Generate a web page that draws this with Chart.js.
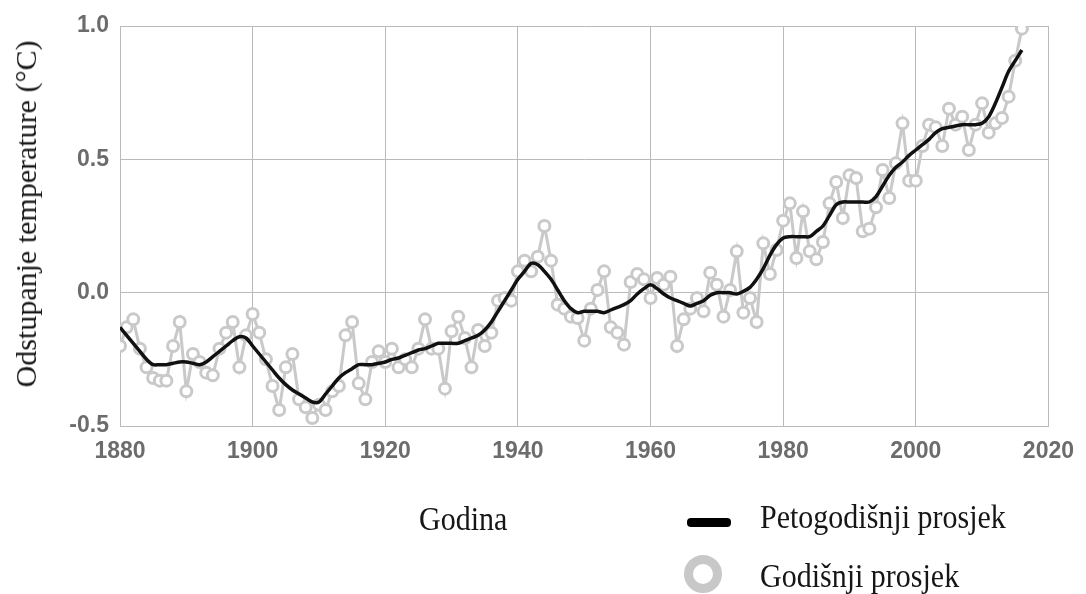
<!DOCTYPE html>
<html>
<head>
<meta charset="utf-8">
<script src="https://cdn.jsdelivr.net/npm/chart.js@4.4.1/dist/chart.umd.min.js"></script>
<style>
  html, body { margin: 0; padding: 0; background: #fff; }
  #wrap { position: relative; width: 1086px; height: 594px; overflow: hidden; }
  #c { position: absolute; left: 0; top: 0; }
  .t { position: absolute; font-family: 'Liberation Serif', 'Times New Roman', serif; color: #161616; white-space: nowrap; line-height: 1; }
  .ytitle { font-size: 30px; left: 26px; top: 214px; transform: translate(-50%, -50%) rotate(-90deg); }
  .lg { font-size: 30px; transform: scale(1, 1.15); transform-origin: left top; }
  .swline { position: absolute; left: 687px; top: 518px; width: 44px; height: 9px; background: #000; border-radius: 4px; }
  .swring { position: absolute; left: 684px; top: 555px; width: 20px; height: 20px; border: 9px solid #c8c8c8; border-radius: 50%; box-sizing: content-box; background: #fff; }
</style>
</head>
<body>
<div id="wrap">
  <canvas id="c" width="1086" height="594"></canvas>
  <div class="t ytitle">Odstupanje temperature (°C)</div>
  <div class="t lg" style="left:419px; top:501px;">Godina</div>
  <div class="swline"></div>
  <div class="t lg" style="left:760px; top:499px;">Petogodišnji prosjek</div>
  <div class="swring"></div>
  <div class="t lg" style="left:760px; top:558px;">Godišnji prosjek</div>
</div>
<script>
// Categories: years 1880..2016
const years = Array.from({ length: 137 }, (_, i) => 1880 + i);

// Annual mean anomaly (°C)
const annualMean = [
  -0.20, -0.13, -0.10, -0.21, -0.28, -0.32, -0.33, -0.33, -0.20, -0.11,  // 1880s
  -0.37, -0.23, -0.26, -0.30, -0.31, -0.21, -0.15, -0.11, -0.28, -0.16,  // 1890s
  -0.08, -0.15, -0.25, -0.35, -0.44, -0.28, -0.23, -0.40, -0.43, -0.47,  // 1900s
  -0.42, -0.44, -0.37, -0.35, -0.16, -0.11, -0.34, -0.40, -0.26, -0.22,  // 1910s
  -0.26, -0.21, -0.28, -0.25, -0.28, -0.21, -0.10, -0.21, -0.21, -0.36,  // 1920s
  -0.145, -0.09, -0.17, -0.28, -0.14, -0.20, -0.15, -0.03, -0.02, -0.03, // 1930s
  0.08, 0.12, 0.08, 0.135, 0.25, 0.12, -0.045, -0.06, -0.09, -0.095,     // 1940s
  -0.18, -0.06, 0.01, 0.08, -0.13, -0.15, -0.195, 0.04, 0.07, 0.05,      // 1950s
  -0.02, 0.055, 0.03, 0.06, -0.20, -0.10, -0.06, -0.02, -0.07, 0.075,    // 1960s
  0.03, -0.09, 0.01, 0.155, -0.075, -0.02, -0.11, 0.185, 0.07, 0.16,     // 1970s
  0.27, 0.335, 0.13, 0.305, 0.155, 0.125, 0.19, 0.335, 0.415, 0.28,      // 1980s
  0.44, 0.43, 0.23, 0.24, 0.32, 0.46, 0.355, 0.485, 0.635, 0.42,         // 1990s
  0.42, 0.55, 0.63, 0.62, 0.55, 0.69, 0.63, 0.66, 0.535, 0.63,           // 2000s
  0.71, 0.60, 0.635, 0.655, 0.735, 0.87, 0.99                            // 2010s
];

// Five-year (smoothed) mean
const fiveYearMean = [
  -0.13, -0.16, -0.19, -0.22, -0.25, -0.27, -0.27, -0.27, -0.265, -0.26,
  -0.26, -0.265, -0.27, -0.26, -0.24, -0.22, -0.20, -0.18, -0.165, -0.17,
  -0.20, -0.23, -0.26, -0.29, -0.32, -0.345, -0.365, -0.38, -0.395, -0.41,
  -0.41, -0.38, -0.35, -0.32, -0.30, -0.285, -0.27, -0.27, -0.27, -0.265,
  -0.26, -0.25, -0.245, -0.235, -0.225, -0.215, -0.21, -0.20, -0.19, -0.19,
  -0.19, -0.19, -0.18, -0.17, -0.16, -0.14, -0.11, -0.07, -0.03, 0.01,
  0.05, 0.08, 0.11, 0.105, 0.08, 0.05, 0.01, -0.03, -0.06, -0.075,
  -0.07, -0.07, -0.07, -0.075, -0.065, -0.055, -0.045, -0.03, -0.005, 0.015,
  0.03, 0.015, -0.005, -0.02, -0.03, -0.04, -0.05, -0.04, -0.03, -0.01,
  0.00, 0.00, 0.00, -0.005, 0.005, 0.02, 0.05, 0.09, 0.14, 0.18,
  0.205, 0.21, 0.21, 0.21, 0.21, 0.23, 0.25, 0.29, 0.33, 0.34,
  0.34, 0.34, 0.34, 0.34, 0.36, 0.40, 0.44, 0.47, 0.49, 0.515,
  0.535, 0.555, 0.575, 0.60, 0.615, 0.62, 0.625, 0.63, 0.63, 0.63,
  0.635, 0.66, 0.71, 0.77, 0.83, 0.87, 0.91
];

// Tick labels
const xTicks = [1880, 1900, 1920, 1940, 1960, 1980, 2000, 2020];
const yTicks = [-0.5, 0.0, 0.5, 1.0];

const annualPts = years.map((y, i) => ({ x: y, y: annualMean[i] }));
const smoothPts = years.map((y, i) => ({ x: y, y: fiveYearMean[i] }));

const tickFont = { family: "'Liberation Sans', Arial, sans-serif", size: 23, weight: 'bold' };
const tickColor = '#6c6c6c';
const gridColor = '#bababa';

new Chart(document.getElementById('c'), {
  type: 'line',
  data: {
    datasets: [
      {
        label: 'Petogodišnji prosjek',
        data: smoothPts,
        borderColor: '#111',
        borderWidth: 3.5,
        pointRadius: 0,
        tension: 0.3,
        fill: false,
        order: 0
      },
      {
        label: 'Godišnji prosjek',
        data: annualPts,
        borderColor: '#c9c9c9',
        borderWidth: 3,
        pointRadius: 5.5,
        pointBorderWidth: 3,
        pointBorderColor: '#c9c9c9',
        pointBackgroundColor: '#fff',
        tension: 0,
        fill: false,
        order: 1
      }
    ]
  },
  options: {
    responsive: false,
    animation: false,
    devicePixelRatio: 1,
    layout: { padding: { left: 0, top: 26, right: 34, bottom: 128 } },
    plugins: { legend: { display: false }, tooltip: { enabled: false } },
    scales: {
      x: {
        type: 'linear',
        min: 1880,
        max: 2020,
        afterBuildTicks: (s) => { s.ticks = xTicks.map(v => ({ value: v })); },
        afterFit: (s) => { s.height = 40; },
        ticks: { font: tickFont, color: tickColor, padding: 12, maxRotation: 0, callback: (v) => String(v) },
        grid: { color: gridColor, lineWidth: 1, drawTicks: false },
        border: { color: gridColor }
      },
      y: {
        min: -0.5,
        max: 1.0,
        afterBuildTicks: (s) => { s.ticks = yTicks.map(v => ({ value: v })); },
        afterFit: (s) => { s.width = 120; },
        ticks: { font: tickFont, color: tickColor, padding: 11, callback: (v) => Number(v).toFixed(1) },
        grid: { color: gridColor, lineWidth: 1, drawTicks: false },
        border: { color: gridColor }
      }
    }
  }
});
</script>
</body>
</html>
